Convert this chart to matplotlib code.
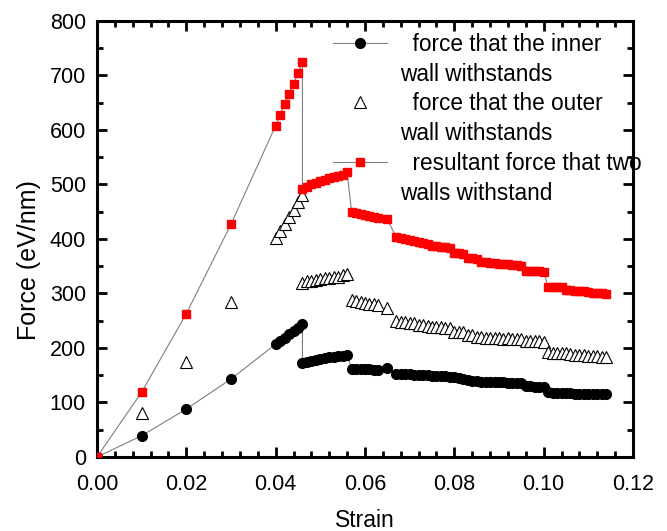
import matplotlib
matplotlib.use("Agg")
import matplotlib.pyplot as plt
from matplotlib.lines import Line2D
from matplotlib.ticker import MultipleLocator

plt.rcParams['font.family'] = ['Liberation Sans', 'DejaVu Sans']

strain = [0.000, 0.010, 0.020, 0.030,
          0.040, 0.041, 0.042, 0.043, 0.044, 0.045, 0.046,
          0.046, 0.047, 0.048, 0.049, 0.050, 0.051, 0.052, 0.053, 0.054, 0.055, 0.056,
          0.057, 0.058, 0.059, 0.060, 0.061, 0.062, 0.063, 0.065,
          0.067, 0.068, 0.069, 0.070, 0.071, 0.072, 0.073, 0.074, 0.075, 0.076,
          0.077, 0.078, 0.079, 0.080, 0.081, 0.082, 0.083, 0.084, 0.085, 0.086,
          0.087, 0.088, 0.089, 0.090, 0.091, 0.092, 0.093, 0.094, 0.095, 0.096,
          0.097, 0.098, 0.099, 0.100,
          0.101, 0.102, 0.103, 0.104, 0.105, 0.106, 0.107, 0.108, 0.109, 0.110,
          0.111, 0.112, 0.113, 0.114]

inner_force = [0, 39, 88, 143,
               207, 213, 219, 225, 231, 237, 244,
               172, 174, 177, 178, 180, 181, 183, 184, 185, 185, 187,
               162, 162, 161, 161, 161, 160, 160, 163,
               153, 153, 152, 152, 151, 151, 150, 150, 149, 149,
               148, 148, 147, 146, 145, 143, 141, 140, 139, 138,
               138, 138, 137, 137, 137, 136, 136, 136, 135, 130,
               130, 129, 129, 129,
               119, 118, 118, 117, 117, 117, 116, 116, 116, 116,
               116, 116, 116, 116]

outer_force = [0, 80, 175, 284,
               401, 414, 428, 441, 454, 468, 481,
               320, 322, 323, 325, 326, 328, 329, 330, 331, 333, 335,
               288, 286, 285, 283, 281, 280, 278, 273,
               250, 248, 248, 246, 245, 243, 242, 240, 239, 238,
               238, 237, 237, 229, 229, 229, 224, 223, 221, 220,
               219, 218, 219, 218, 217, 218, 217, 216, 216, 212,
               212, 212, 212, 211,
               192, 191, 191, 190, 190, 189, 188, 188, 187, 186,
               185, 185, 184, 184]

total_force = [0, 119, 263, 427,
               608, 627, 647, 666, 685, 705, 725,
               492, 496, 500, 503, 506, 509, 512, 514, 516, 518, 522,
               450, 448, 446, 444, 442, 440, 438, 436,
               403, 401, 400, 398, 396, 394, 392, 390, 388, 387,
               386, 385, 384, 375, 374, 372, 366, 365, 364, 358,
               357, 356, 356, 355, 354, 354, 353, 352, 351, 342,
               342, 341, 341, 340,
               312, 312, 311, 311, 306, 306, 305, 305, 304, 302,
               301, 300, 300, 299]

legend_lines = ["  force that the inner", "wall withstands",
                "  force that the outer", "wall withstands",
                "  resultant force that two", "walls withstand"]

fig = plt.figure(figsize=(6.67, 5.31), dpi=100)
ax = fig.add_axes([0.1454, 0.1394, 0.8036, 0.8211])

line_col = '#7f7f7f'
ax.plot(strain, inner_force, color=line_col, lw=0.8, marker='o', ms=7,
        mfc='black', mec='black', zorder=3)
ax.plot(strain, outer_force, linestyle='none', marker='^', ms=8.5,
        mfc='white', mec='black', mew=0.8, zorder=4)
ax.plot(strain, total_force, color=line_col, lw=0.8, marker='s', ms=6,
        mfc='red', mec='red', zorder=5)

ax.set_xlim(0, 0.12)
ax.set_ylim(0, 800)
ax.xaxis.set_major_locator(MultipleLocator(0.02))
ax.xaxis.set_minor_locator(MultipleLocator(0.004))
ax.yaxis.set_major_locator(MultipleLocator(100))
ax.yaxis.set_minor_locator(MultipleLocator(50))
ax.xaxis.set_major_formatter(matplotlib.ticker.FormatStrFormatter('%.2f'))

for s in ax.spines.values():
    s.set_linewidth(2.2)
ax.tick_params(which='both', direction='in', top=True, right=True,
               labelsize=15.5, width=2.0)
ax.tick_params(which='major', length=7, pad=8)
ax.tick_params(which='minor', length=4)
ax.tick_params(axis='x', which='major', pad=12)

ax.set_xlabel('Strain', fontsize=16.5, labelpad=10)
ax.set_ylabel('Force (eV/nm)', fontsize=18, labelpad=6)
ax.yaxis.label.set_y(0.452)

h_inner = Line2D([], [], color=line_col, lw=0.8, marker='o', ms=7,
                 mfc='black', mec='black')
h_outer = Line2D([], [], linestyle='none', marker='^', ms=8.5,
                 mfc='white', mec='black', mew=0.8)
h_total = Line2D([], [], color=line_col, lw=0.8, marker='s', ms=6,
                 mfc='red', mec='red')
h_blank = Line2D([], [], linestyle='none')
ax.legend([h_inner, h_blank, h_outer, h_blank, h_total, h_blank],
          legend_lines, loc='upper left', bbox_to_anchor=(0.44, 0.973),
          frameon=False, fontsize=16.3, handlelength=2.4, handletextpad=0.57,
          labelspacing=0.3, borderpad=0, borderaxespad=0)

fig.savefig('out.png', dpi=100)
